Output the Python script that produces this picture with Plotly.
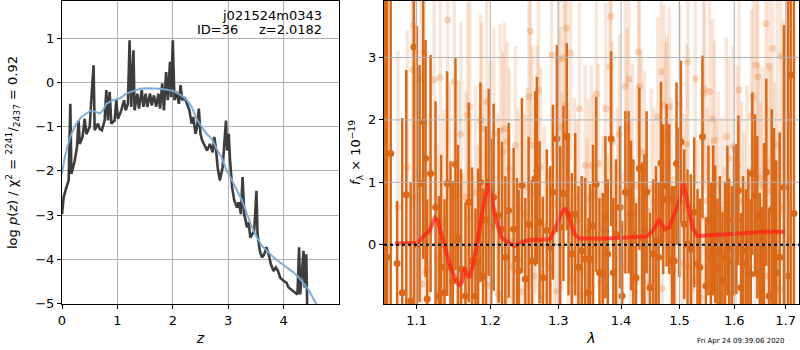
import plotly.graph_objects as go

# ---------------- Left panel: log p(z) ----------------
z_pz = [0.00, 0.03, 0.08, 0.12, 0.15, 0.17, 0.23, 0.27, 0.30, 0.32,
        0.37, 0.41, 0.44, 0.50, 0.54, 0.57, 0.59, 0.65, 0.68, 0.72,
        0.77, 0.80, 0.83, 0.86, 0.89, 0.95, 0.98, 1.01, 1.07, 1.12,
        1.15, 1.19, 1.22, 1.25, 1.29, 1.31, 1.36, 1.39, 1.44, 1.47,
        1.51, 1.54, 1.59, 1.62, 1.66, 1.70, 1.74, 1.77, 1.81, 1.84,
        1.88, 1.91, 1.95, 1.97, 2.00, 2.03, 2.07, 2.11, 2.14, 2.17,
        2.21, 2.25, 2.30, 2.34, 2.37, 2.41, 2.44, 2.47, 2.50, 2.53,
        2.58, 2.62, 2.67, 2.72, 2.75, 2.78, 2.81, 2.85, 2.90, 2.93,
        2.96, 2.98, 3.01, 3.03, 3.07, 3.11, 3.16, 3.19, 3.23, 3.26,
        3.29, 3.34, 3.37, 3.40, 3.43, 3.47, 3.51, 3.53, 3.57, 3.61,
        3.65, 3.69, 3.73, 3.77, 3.82, 3.86, 3.90, 3.94, 4.00, 4.05,
        4.09, 4.13, 4.18, 4.22, 4.25, 4.28, 4.30, 4.33, 4.36, 4.38,
        4.41, 4.43]
logp_pz = [-2.98, -2.60, -2.37, -2.22, -0.48, -2.07, -1.77, -1.46, -0.86, -1.39,
           -1.23, -0.82, -1.17, -1.00, -0.17, 0.39, -1.08, -0.93, -1.05, -1.08,
           -0.86, -0.17, -0.86, -0.21, -0.93, -0.86, -0.40, -0.82, -0.63, -0.40,
           -0.63, -0.48, 0.96, -0.55, 0.73, -0.63, -0.25, -0.59, -0.17, -0.55,
           -0.25, -0.55, -0.25, -0.52, -0.29, -0.55, -0.25, -0.59, -0.02, -0.63,
           0.24, -0.40, 0.47, -0.33, 0.96, -0.40, -0.21, -0.48, -0.06, -0.40,
           -0.33, -0.48, -0.63, -0.93, -0.78, -1.16, -1.00, -0.59, -1.16, -1.31,
           -1.46, -1.54, -1.39, -1.58, -1.23, -1.50, -1.92, -2.22, -1.92, -1.46,
           -0.86, -1.54, -1.16, -1.69, -2.37, -2.67, -2.83, -2.71, -2.98, -2.14,
           -2.98, -3.28, -3.17, -3.51, -3.43, -3.36, -2.45, -3.43, -3.81, -3.96,
           -3.89, -3.73, -3.89, -4.11, -4.27, -4.19, -4.27, -4.42, -4.49, -4.53,
           -4.64, -4.68, -4.72, -4.76, -4.80, -3.73, -4.80, -4.34, -3.81, -4.64,
           -3.89, -5.30]

z_prior = [0.00, 0.05, 0.11, 0.17, 0.26, 0.35, 0.44, 0.53, 0.62, 0.68,
           0.74, 0.80, 0.92, 1.04, 1.16, 1.29, 1.41, 1.53, 1.65, 1.77,
           1.89, 2.01, 2.13, 2.25, 2.34, 2.43, 2.52, 2.61, 2.70, 2.79,
           2.88, 2.97, 3.07, 3.16, 3.25, 3.34, 3.43, 3.52, 3.61, 3.70,
           3.82, 3.94, 4.06, 4.18, 4.30, 4.42, 4.51, 4.60, 4.66]
logp_prior = [-2.07, -1.69, -1.39, -1.16, -0.93, -0.78, -0.70, -0.63, -0.67, -0.70,
              -0.63, -0.48, -0.40, -0.36, -0.25, -0.19, -0.14, -0.13, -0.13, -0.14,
              -0.16, -0.19, -0.27, -0.39, -0.55, -0.82, -1.00, -1.16, -1.27, -1.50,
              -1.69, -1.99, -2.22, -2.45, -2.67, -2.98, -3.28, -3.51, -3.70, -3.81,
              -3.96, -4.08, -4.19, -4.30, -4.45, -4.64, -4.83, -5.02, -5.17]

# ---------------- Right panel: spectrum ----------------
lam_dark = [1.0595, 1.0625, 1.0669, 1.0750, 1.0815, 1.0867, 1.0923, 1.0965, 1.1004, 1.1039,
            1.1086, 1.1117, 1.1138, 1.1183, 1.1249, 1.1292, 1.1323, 1.1368, 1.1403, 1.1449,
            1.1480, 1.1516, 1.1550, 1.1592, 1.1653, 1.1698, 1.1743, 1.1791, 1.1827, 1.1860,
            1.1896, 1.1938, 1.1976, 1.2011, 1.2047, 1.2118, 1.2165, 1.2214, 1.2262, 1.2334,
            1.2382, 1.2407, 1.2455, 1.2505, 1.2554, 1.2602, 1.2653, 1.2677, 1.2717, 1.2767,
            1.2827, 1.2878, 1.2918, 1.2979, 1.3031, 1.3081, 1.3132, 1.3159, 1.3210, 1.3263,
            1.3314, 1.3366, 1.3420, 1.3472, 1.3499, 1.3545, 1.3595, 1.3648, 1.3701, 1.3744,
            1.3782, 1.3837, 1.3874, 1.3918, 1.3984, 1.4017, 1.4072, 1.4126, 1.4166, 1.4205,
            1.4250, 1.4305, 1.4351, 1.4390, 1.4429, 1.4486, 1.4543, 1.4589, 1.4634, 1.4675,
            1.4715, 1.4772, 1.4819, 1.4866, 1.4907, 1.4947, 1.4995, 1.5025, 1.5083, 1.5142,
            1.5202, 1.5262, 1.5321, 1.5364, 1.5411, 1.5473, 1.5521, 1.5565, 1.5607, 1.5643,
            1.5686, 1.5730, 1.5778, 1.5829, 1.5871, 1.5903, 1.5954, 1.5997, 1.6040, 1.6078,
            1.6129, 1.6167, 1.6219, 1.6268, 1.6314, 1.6345, 1.6397, 1.6442, 1.6488, 1.6527,
            1.6572, 1.6617, 1.6670, 1.6723, 1.6768, 1.6813, 1.6881, 1.6966, 1.7046, 1.7101, 1.7167]
flux_dark = [0.50, -0.20, 1.46, -0.30, -0.77, 0.80, -0.90, 3.17, 0.00, 0.98,
             1.97, 1.38, -0.87, 1.14, 0.60, -0.82, -0.36, -0.77, 0.98, -0.36,
             -0.58, 1.29, 0.10, -0.39, -0.82, 0.68, -0.26, -0.82, -0.28, 1.00,
             -0.50, 0.40, 1.00, 0.30, 0.76, 0.47, 0.25, -0.20, 0.55, 0.25,
             -0.23, -0.42, 0.95, -0.55, 0.33, -0.26, 1.06, 1.19, 0.36, -0.53,
             0.23, -0.04, 0.84, 1.70, 0.28, 0.82, 1.73, 0.49, -0.15, 0.49,
             -0.36, -0.10, -0.23, -0.77, -0.23, 0.30, 0.97, -0.45, -0.47, 0.44,
             -0.15, 1.70, -0.45, 0.17, 0.60, -0.82, 0.84, 0.84, 0.47, 0.17,
             -0.53, 1.22, 0.12, 0.25, 0.84, -0.69, -0.15, 0.06, -0.20, 1.31,
             0.73, 0.95, 0.73, -0.26, -0.26, 1.30, 0.68, 1.65, 0.33, 0.01,
             -0.07, 0.52, -0.31, -0.36, 1.73, -0.66, 0.39, -0.20, 0.39, 0.17,
             -0.36, -0.10, -0.58, -0.20, 0.39, -0.04, -0.26, 0.39, 0.41, 0.87,
             -0.69, -0.10, -0.31, 0.01, -0.47, 1.14, 0.79, 0.44, -0.47, -0.69,
             0.23, 1.16, -0.82, 0.57, 0.17, -0.45, -0.20, 0.92, -0.50, 2.72, 0.50]
err_dark = [9.0, 9.0, 5.0, 1.0, 2.8, 2.0, 1.9, 4.5, 3.5, 1.9,
            2.2, 1.9, 1.6, 1.9, 1.7, 1.6, 1.8, 1.5, 1.8, 1.7,
            1.6, 1.7, 1.5, 1.6, 1.5, 1.6, 1.5, 1.4, 1.5, 1.6,
            1.4, 1.5, 1.5, 1.4, 1.5, 1.4, 1.4, 1.3, 1.4, 1.3,
            1.3, 1.3, 1.4, 1.3, 1.4, 1.3, 1.4, 1.5, 1.3, 1.3,
            1.3, 1.3, 1.4, 1.5, 1.3, 1.4, 1.5, 1.3, 1.3, 1.3,
            1.3, 1.2, 1.3, 1.2, 1.2, 1.3, 1.4, 1.2, 1.3, 1.3,
            1.2, 1.4, 1.2, 1.2, 1.3, 1.2, 1.3, 1.3, 1.2, 1.2,
            1.2, 1.3, 1.2, 1.2, 1.3, 1.2, 1.2, 1.2, 1.2, 1.3,
            1.2, 1.3, 1.2, 1.2, 1.2, 1.3, 1.2, 1.3, 1.2, 1.2,
            1.2, 1.2, 1.2, 1.1, 1.3, 1.1, 1.2, 1.2, 1.2, 1.1,
            1.1, 1.2, 1.1, 1.2, 1.2, 1.1, 1.2, 1.2, 1.2, 1.2,
            1.2, 1.2, 1.2, 1.2, 1.2, 1.3, 1.3, 1.3, 1.3, 1.3,
            1.4, 1.5, 1.4, 1.6, 1.7, 1.8, 2.0, 2.6, 5.0, 9.0, 9.0]

lam_light = [1.076, 1.088, 1.095, 1.096, 1.099, 1.105, 1.107, 1.110, 1.112, 1.117,
             1.123, 1.127, 1.131, 1.136, 1.141, 1.144, 1.150, 1.154, 1.156, 1.159,
             1.162, 1.166, 1.168, 1.171, 1.172, 1.176, 1.179, 1.183, 1.186, 1.188,
             1.191, 1.195, 1.197, 1.200, 1.205, 1.210, 1.211, 1.214, 1.218, 1.220,
             1.222, 1.224, 1.227, 1.229, 1.232, 1.236, 1.240, 1.244, 1.249, 1.253,
             1.256, 1.258, 1.261, 1.263, 1.266, 1.268, 1.270, 1.273, 1.275, 1.279,
             1.284, 1.288, 1.290, 1.294, 1.298, 1.301, 1.303, 1.306, 1.308, 1.311,
             1.313, 1.316, 1.319, 1.322, 1.325, 1.329, 1.333, 1.336, 1.339, 1.342,
             1.345, 1.347, 1.352, 1.355, 1.360, 1.363, 1.366, 1.370, 1.375, 1.378,
             1.382, 1.383, 1.386, 1.390, 1.394, 1.397, 1.402, 1.407, 1.410, 1.413,
             1.416, 1.419, 1.423, 1.427, 1.429, 1.431, 1.434, 1.439, 1.443, 1.448,
             1.451, 1.456, 1.462, 1.468, 1.470, 1.473, 1.476, 1.478, 1.482, 1.485,
             1.489, 1.494, 1.500, 1.504, 1.508, 1.513, 1.515, 1.517, 1.521, 1.525,
             1.528, 1.533, 1.537, 1.541, 1.543, 1.545, 1.550, 1.554, 1.556, 1.560,
             1.563, 1.566, 1.570, 1.574, 1.577, 1.581, 1.585, 1.590, 1.593, 1.598,
             1.602, 1.606, 1.609, 1.614, 1.619, 1.624, 1.629, 1.633, 1.636, 1.640,
             1.642, 1.645, 1.648, 1.651, 1.655, 1.661, 1.664, 1.667, 1.670, 1.674,
             1.678, 1.683, 1.687, 1.690, 1.695]
flux_light = [0.60, 1.24, 2.80, 3.52, 0.76, 2.66, -0.63, 3.09, -0.42, 0.20,
              2.64, -0.20, 2.68, 0.36, 3.60, 0.90, 2.61, -0.55, 0.82, 1.77,
              -0.45, 0.76, 2.08, 2.21, 0.41, -0.50, 0.84, 0.00, 1.99, 1.86,
              0.90, 2.29, -0.65, 1.35, 1.78, 0.49, -0.79, 1.83, 1.49, 1.86,
              -0.88, 1.65, 1.22, 0.06, -0.35, 1.59, 0.60, -0.75, 0.49, 0.92,
              2.37, 3.42, 1.59, -0.50, 0.82, 1.59, 2.48, 1.24, -0.82, 0.30,
              -0.30, -0.36, 3.04, 0.65, -0.74, 2.96, 1.89, 0.85, 2.99, 2.24,
              3.47, 0.55, 3.07, -0.55, 0.75, 0.39, 2.18, -0.80, -0.42, 1.27,
              0.20, 0.73, 1.27, 0.80, 2.42, 1.30, -0.60, 0.25, 2.18, -0.05,
              2.85, 3.66, 1.65, -0.20, 0.60, 1.77, -0.35, 2.54, 1.86, 2.65,
              0.50, 1.30, -0.75, 0.95, 3.09, 2.54, 1.49, 1.18, 0.55, -0.60,
              0.90, 0.70, 2.05, 2.77, -0.70, 2.24, 1.65, 1.75, 2.21, 0.85,
              -0.40, 0.55, 2.25, -0.30, 0.60, 1.61, 2.93, -0.35, -0.72, -0.58,
              2.66, 0.20, -0.85, 0.45, 2.42, 2.50, 0.70, 2.45, -0.55, 2.02,
              1.67, 0.49, 0.95, -0.80, 0.55, -0.25, 1.73, 1.38, -0.80, 1.58,
              -0.65, 1.26, 2.48, 0.70, 0.20, 0.95, -0.35, 2.06, 2.37, 0.15,
              2.88, 2.69, 1.08, 0.50, 0.95, 3.54, -0.50, 2.86, 0.85, 3.15,
              0.40, 1.60, -0.70, 3.02, 0.60]
err_light = [2.5, 2.2, 2.2, 2.5, 2.0, 2.0, 1.8, 2.0, 1.8, 1.9,
             2.0, 1.8, 1.9, 1.8, 2.0, 1.7, 1.9, 1.6, 1.8, 1.8,
             1.6, 1.7, 1.8, 1.8, 1.7, 1.6, 1.7, 1.6, 1.7, 1.7,
             1.6, 1.7, 1.5, 1.6, 1.7, 1.6, 1.5, 1.7, 1.6, 1.7,
             1.5, 1.6, 1.6, 1.5, 1.5, 1.6, 1.6, 1.5, 1.6, 1.6,
             1.7, 1.8, 1.6, 1.5, 1.6, 1.6, 1.7, 1.6, 1.5, 1.6,
             1.5, 1.5, 1.7, 1.6, 1.5, 1.7, 1.6, 1.6, 1.7, 1.7,
             1.8, 1.6, 1.7, 1.5, 1.6, 1.6, 1.7, 1.5, 1.5, 1.6,
             1.5, 1.6, 1.6, 1.6, 1.7, 1.6, 1.5, 1.5, 1.7, 1.5,
             1.7, 1.8, 1.6, 1.5, 1.6, 1.6, 1.5, 1.7, 1.6, 1.7,
             1.5, 1.6, 1.5, 1.6, 1.7, 1.7, 1.6, 1.6, 1.5, 1.5,
             1.6, 1.5, 1.6, 1.7, 1.5, 1.6, 1.6, 1.6, 1.6, 1.5,
             1.5, 1.5, 1.6, 1.5, 1.5, 1.6, 1.7, 1.5, 1.5, 1.5,
             1.7, 1.5, 1.5, 1.5, 1.6, 1.6, 1.5, 1.6, 1.5, 1.6,
             1.6, 1.5, 1.5, 1.5, 1.5, 1.5, 1.6, 1.6, 1.5, 1.6,
             1.5, 1.6, 1.7, 1.6, 1.6, 1.6, 1.6, 1.7, 1.7, 1.6,
             1.8, 1.8, 1.8, 1.8, 1.9, 2.0, 1.9, 2.0, 2.0, 2.1,
             2.2, 2.4, 2.5, 2.6, 3.0]

lam_model = [1.0723, 1.102, 1.111, 1.117, 1.124, 1.128, 1.135, 1.144, 1.151, 1.157,
             1.161, 1.164, 1.167, 1.171, 1.176, 1.183, 1.190, 1.197, 1.201, 1.208,
             1.216, 1.225, 1.235, 1.245, 1.257, 1.272, 1.287, 1.294, 1.304, 1.311,
             1.317, 1.325, 1.333, 1.375, 1.419, 1.442, 1.453, 1.464, 1.468, 1.474,
             1.482, 1.491, 1.500, 1.507, 1.514, 1.523, 1.532, 1.559, 1.609, 1.661, 1.699]
flux_model = [0.02, 0.03, 0.17, 0.22, 0.43, 0.39, 0.06, -0.31, -0.53, -0.66,
              -0.58, -0.36, -0.47, -0.53, -0.31, 0.17, 0.60, 1.00, 0.81, 0.39,
              0.12, 0.04, -0.02, 0.04, 0.08, 0.08, 0.09, 0.22, 0.49, 0.59,
              0.44, 0.17, 0.10, 0.10, 0.12, 0.13, 0.22, 0.39, 0.34, 0.25,
              0.28, 0.49, 0.71, 1.00, 0.71, 0.28, 0.14, 0.15, 0.18, 0.21, 0.21]

left_xticks = [0, 1, 2, 3, 4]
left_yticks = [-5, -4, -3, -2, -1, 0, 1]
right_xticks = [1.1, 1.2, 1.3, 1.4, 1.5, 1.6, 1.7]
right_yticks = [0, 1, 2, 3]

FONT = "DejaVu Sans"
GRID = "#b0b0b0"
ORANGE = "rgb(217,105,25)"

fig = go.Figure()

# left panel
fig.add_trace(go.Scatter(x=z_pz, y=logp_pz, mode="lines",
                         line=dict(color="rgba(45,45,45,0.92)", width=2.6),
                         xaxis="x", yaxis="y", showlegend=False, hoverinfo="skip"))
fig.add_trace(go.Scatter(x=z_prior, y=logp_prior, mode="lines",
                         line=dict(color="rgba(120,170,212,0.95)", width=2),
                         xaxis="x", yaxis="y", showlegend=False, hoverinfo="skip"))

# right panel
fig.add_trace(go.Scatter(x=lam_light, y=flux_light, mode="markers",
                         marker=dict(color="rgba(228,130,60,0.30)", size=7),
                         error_y=dict(type="data", array=err_light, visible=True,
                                      color="rgba(228,130,60,0.20)", thickness=3.5, width=0),
                         xaxis="x2", yaxis="y2", showlegend=False, hoverinfo="skip"))
fig.add_trace(go.Scatter(x=lam_dark, y=flux_dark, mode="markers",
                         marker=dict(color=ORANGE, size=7),
                         error_y=dict(type="data", array=err_dark, visible=True,
                                      color=ORANGE, thickness=2.5, width=0),
                         xaxis="x2", yaxis="y2", showlegend=False, hoverinfo="skip"))
fig.add_trace(go.Scatter(x=lam_model, y=flux_model, mode="lines",
                         line=dict(color="rgba(255,30,20,0.7)", width=4),
                         xaxis="x2", yaxis="y2", showlegend=False, hoverinfo="skip"))

shapes = []
for v in right_xticks:
    shapes.append(dict(type="line", xref="x2", yref="y2 domain", x0=v, x1=v, y0=0, y1=1,
                       line=dict(color=GRID, width=1), layer="above"))
for v in right_yticks:
    shapes.append(dict(type="line", xref="x2 domain", yref="y2", x0=0, x1=1, y0=v, y1=v,
                       line=dict(color=GRID, width=1), layer="above"))
shapes.append(dict(type="line", xref="x2 domain", yref="y2", x0=0, x1=1, y0=0, y1=0,
                   line=dict(color="black", width=2, dash="dot"), layer="above"))

axis_common = dict(showline=True, linecolor="black", linewidth=1, mirror=True,
                   ticks="outside", ticklen=4, tickwidth=1, tickcolor="black",
                   tickfont=dict(family=FONT, size=13, color="black"),
                   zeroline=False, automargin=False)

fig.update_layout(
    width=800, height=350,
    margin=dict(l=62, r=1, t=1, b=46),
    paper_bgcolor="white", plot_bgcolor="white",
    font=dict(family=FONT, size=13, color="black"),
    xaxis=dict(domain=[0, 0.3758], range=[0, 5.0], tickvals=left_xticks,
               showgrid=True, gridcolor=GRID, gridwidth=1,
               title=dict(text="<i>z</i>", standoff=6, font=dict(size=14)),
               anchor="y", **axis_common),
    yaxis=dict(domain=[0, 1], range=[-5.016, 1.848], tickvals=left_yticks,
               showgrid=True, gridcolor=GRID, gridwidth=1,
               title=dict(text="log <i>p</i>(<i>z</i>) / χ<sup>2</sup> = <sup>2241</sup>/<sub>2437</sub> = 0.92",
                          standoff=14, font=dict(size=13)),
               anchor="x", **axis_common),
    xaxis2=dict(domain=[0.4369, 1.0], type="log", range=[0.02469, 0.23729],
                tickvals=right_xticks, ticktext=[str(v) for v in right_xticks],
                showgrid=False,
                title=dict(text="<i>λ</i>", standoff=6, font=dict(size=14)),
                anchor="y2", **axis_common),
    yaxis2=dict(domain=[0, 1], range=[-0.949, 3.905], tickvals=right_yticks,
                showgrid=False,
                title=dict(text="<i>f</i><sub>λ</sub> × 10<sup>−19</sup>", standoff=4, font=dict(size=13)),
                anchor="x2", **axis_common),
    shapes=shapes,
    annotations=[
        dict(text="j021524m0343", xref="x domain", yref="y domain", x=0.945, y=0.985,
             xanchor="right", yanchor="top", showarrow=False, font=dict(family=FONT, size=13)),
        dict(text="ID=36     z=2.0182", xref="x domain", yref="y domain", x=0.945, y=0.937,
             xanchor="right", yanchor="top", showarrow=False, font=dict(family=FONT, size=13)),
        dict(text="Fri Apr 24 09:39:06 2020", xref="paper", yref="paper", x=0.9837, y=-0.123,
             xanchor="right", yanchor="middle", showarrow=False, font=dict(family=FONT, size=7)),
    ],
)

fig.write_html("out.html", config={"displayModeBar": False},
               post_script="document.body.style.margin='0';document.body.style.padding='0';")
